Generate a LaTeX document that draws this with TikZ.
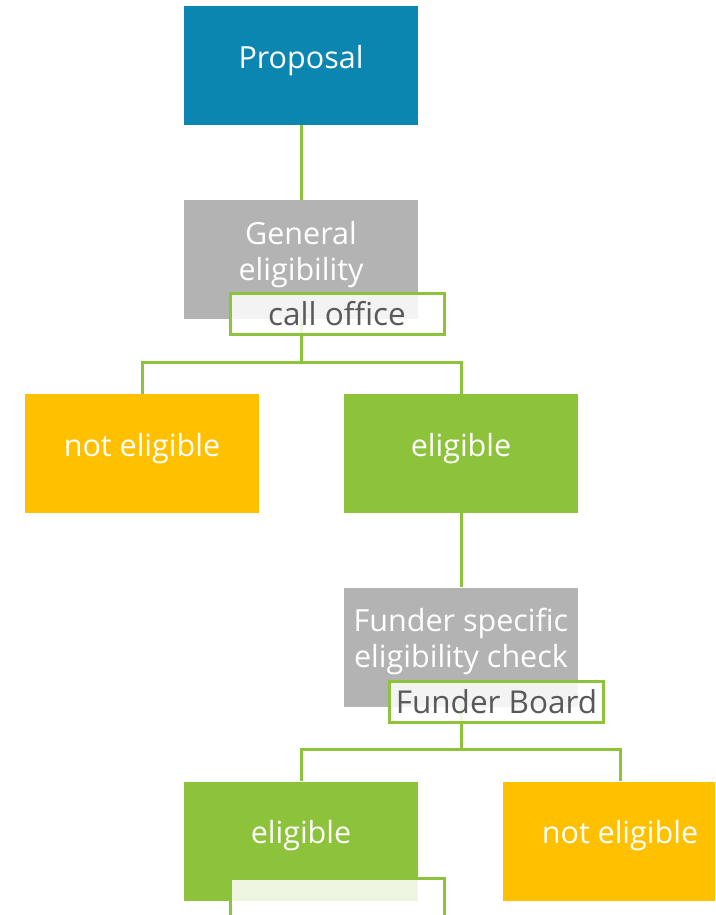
\documentclass[tikz,border=0pt]{standalone}
\usepackage{fontspec}
\setmainfont{Open Sans}

\definecolor{propblue}{RGB}{11,134,177}
\definecolor{checkgray}{RGB}{179,179,179}
\definecolor{noamber}{RGB}{255,192,0}
\definecolor{okgreen}{RGB}{141,195,59}
\definecolor{tagtext}{RGB}{89,89,89}

\begin{document}
\begin{tikzpicture}[x=1pt, y=-1pt,
  stepbox/.style={minimum width=234pt, minimum height=119pt, inner sep=0pt,
    text=white, align=center, font=\fontsize{30.5}{36}\selectfont,
    execute at end node={\rule[-18pt]{0pt}{0pt}}},
  tagbox/.style={draw=okgreen, line width=3pt, fill=white, fill opacity=0.85,
    text opacity=1, minimum width=214pt, minimum height=41pt, inner sep=0pt,
    text=tagtext, font=\fontsize{31.5}{36}\selectfont},
  link/.style={draw=okgreen, line width=3pt}]
% Set the page size
\useasboundingbox (0,0) rectangle (715,915);
\clip (0,0) rectangle (715,915);

% The steps
\node[stepbox, fill=propblue] (proposal) at (301,65.5) {Proposal};
\node[stepbox, fill=checkgray] (general) at (301,259.5) {General\\eligibility};
\node[stepbox, fill=noamber] (notElig) at (142,453.5) {not eligible};
\node[stepbox, fill=okgreen] (elig) at (461,453.5) {eligible};
\node[stepbox, fill=checkgray] (funder) at (461,647) {Funder specific\\eligibility check};
\node[stepbox, fill=okgreen] (eligB) at (301,841) {eligible};
\node[stepbox, fill=noamber] (notEligB) at (620,841) {not eligible};

% Connect the steps
\draw[link] (proposal.south) -- (general.north);
\draw[link] (general.south) -- ++(0,43) -| (notElig.north);
\draw[link] (general.south) -- ++(0,43) -| (elig.north);
\draw[link] (elig.south) -- (funder.north);
\draw[link] (funder.south) -- ++(0,43) -| (eligB.north);
\draw[link] (funder.south) -- ++(0,43) -| (notEligB.north);

% Who does the check
\node[tagbox] (callOffice) at (337,313.5) {call office};
\node[tagbox] (funderBoard) at (496.5,701.5) {Funder Board};
\node[tagbox] (bottomTag) at (337,898.5) {};
\end{tikzpicture}
\end{document}
